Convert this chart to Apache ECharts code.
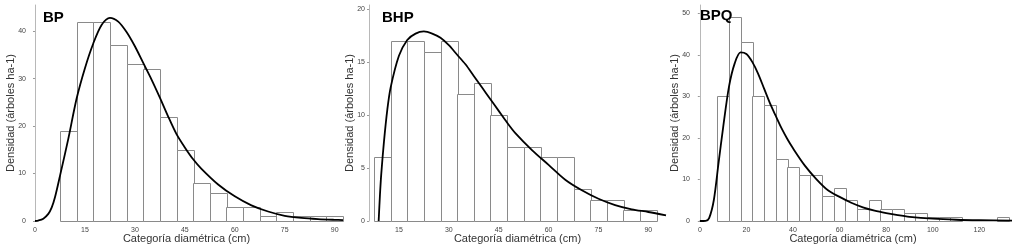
<!DOCTYPE html>
<html>
<head>
<meta charset="utf-8">
<script src="https://cdn.jsdelivr.net/npm/echarts@6/dist/echarts.min.js"></script>
<style>html,body{margin:0;padding:0;background:#fff;}#c{width:1015px;height:248px;}</style>
</head>
<body>
<div id="c"></div>
<script>
// ---- data ----
const panelNames = ['BP', 'BHP', 'BPQ'];
const binWidth = 5;

const bpBins = [10,15,20,25,30,35,40,45,50,55,60,65,70,75,80,85,90];
const bpCounts = [19,42,42,37,33,32,22,15,8,6,3,3,1,2,1,1,1];
const bpCurveX = [0,1,2.5,4,5,6,7.5,10,12.5,15,17.5,20,22.5,25,27.5,30,32.5,35,37.5,40,42.5,45,47.5,50,55,60,65,70,75,80,85,90,92.5];
const bpCurveY = [0,0.1,0.5,1.5,2.8,5,9.5,17.3,25.8,32.2,37.4,41.3,42.8,42,39.8,36.8,33.3,29.8,26,22,18.3,15.5,13,11,7.7,5.2,3.3,2,1.1,0.65,0.4,0.25,0.2];

const bhpBins = [10,15,20,25,30,35,40,45,50,55,60,65,70,75,80,85,90];
const bhpCounts = [6,17,17,16,17,12,13,10,7,7,6,6,3,2,2,1,1];
const bhpCurveX = [8.9,9.3,9.7,10.5,11.5,12.5,15,17.5,20,22.5,25,27.5,30,32.5,35,37.5,40,42.5,45,47.5,50,55,60,65,70,75,80,85,90,95.3];
const bhpCurveY = [0,2.5,4.5,7.5,10.5,12.6,15.6,17.1,17.7,17.9,17.7,17.3,16.6,15.7,14.8,13.7,12.6,11.5,10.4,9.3,8.3,6.7,5.3,3.9,2.9,2.1,1.5,1.1,0.85,0.54];

const bpqBins = [10,15,20,25,30,35,40,45,50,55,60,65,70,75,80,85,90,95,100,105,110,115,120,125,130];
const bpqCounts = [30,49,43,30,28,15,13,11,11,6,8,5,3,5,3,3,2,2,1,1,1,0,0,0,1];
const bpqCurveX = [0,2.5,4,6,8,10,12.5,15,17.5,20,22.5,25,27.5,30,32.5,35,37.5,40,45,50,55,60,65,70,75,80,85,90,100,110,120,134];
const bpqCurveY = [0,0.05,0.7,5,13.8,22.5,32.3,38,40.6,40.2,38.3,35.5,32,28.5,25.4,22.4,19.8,17.5,13.4,10.1,7.4,5.8,4.4,3.3,2.5,1.9,1.4,1.0,0.55,0.3,0.18,0.1];

const bpXTicks = [0,15,30,45,60,75,90];
const bhpXTicks = [15,30,45,60,75,90];
const bpqXTicks = [0,20,40,60,80,100,120];
const bpYTicks = [0,10,20,30,40];
const bhpYTicks = [0,5,10,15,20];
const bpqYTicks = [0,10,20,30,40,50];

const xTitle = 'Categoría diamétrica (cm)';
const yTitle = 'Densidad (árboles ha-1)';

// ---- chart ----
const FONT = 'Liberation Sans, Arial, sans-serif';
const panels = [
  {bins: bpBins, counts: bpCounts, cx: bpCurveX, cy: bpCurveY, xt: bpXTicks, yt: bpYTicks,
   grid: {left: 30, top: 5, width: 313, height: 216}, xmin: -1.5, xmax: 92.5, ymax: 45.5, label: [38, 5]},
  {bins: bhpBins, counts: bhpCounts, cx: bhpCurveX, cy: bhpCurveY, xt: bhpXTicks, yt: bhpYTicks,
   grid: {left: 369, top: 5, width: 297, height: 216}, xmin: 6, xmax: 95.3, ymax: 20.4, label: [377, 5]},
  {bins: bpqBins, counts: bpqCounts, cx: bpqCurveX, cy: bpqCurveY, xt: bpqXTicks, yt: bpqYTicks,
   grid: {left: 694, top: 5, width: 318, height: 216}, xmin: -2.5, xmax: 134, ymax: 52, label: [695, 3]}
];

const grids = [], xAxes = [], yAxes = [], series = [], titles = [];
panels.forEach((p, i) => {
  grids.push(Object.assign({outerBoundsMode: 'none', containLabel: false}, p.grid));
  xAxes.push({
    type: 'value', gridIndex: i, min: p.xmin, max: p.xmax,
    axisLine: {show: false}, splitLine: {show: false},
    axisTick: {show: false, customValues: p.xt},
    axisLabel: {customValues: p.xt, fontSize: 7, color: '#444', margin: 6, fontFamily: FONT},
    name: xTitle, nameLocation: 'middle', nameGap: 12, nameMoveOverlap: false,
    nameTextStyle: {fontSize: 11, color: '#333', fontFamily: FONT}
  });
  yAxes.push({
    type: 'value', gridIndex: i, min: 0, max: p.ymax,
    axisLine: {show: true, lineStyle: {color: '#b8b8b8', width: 1}},
    splitLine: {show: false},
    axisTick: {show: true, length: 2, customValues: p.yt, lineStyle: {color: '#999'}},
    axisLabel: {customValues: p.yt, fontSize: 7, color: '#444', margin: 4, fontFamily: FONT},
    name: yTitle, nameLocation: 'middle', nameGap: 14, nameMoveOverlap: false,
    nameTextStyle: {fontSize: 11, color: '#333', fontFamily: FONT}
  });
  series.push({
    type: 'custom', xAxisIndex: i, yAxisIndex: i, z: 2,
    data: p.bins.map((b, k) => [b, p.counts[k]]),
    renderItem: function (params, api) {
      const x = api.value(0), y = api.value(1);
      if (!y) return null;
      const a = api.coord([x - binWidth / 2, y]);
      const b = api.coord([x + binWidth / 2, 0]);
      return {type: 'rect',
        shape: {x: Math.round(a[0]) + 0.5, y: Math.round(a[1]) + 0.5, width: Math.round(b[0] - a[0]), height: Math.round(b[1] - a[1])},
        style: {fill: '#fff', stroke: '#8a8a8a', lineWidth: 1}};
    },
    silent: true
  });
  series.push({
    type: 'line', xAxisIndex: i, yAxisIndex: i, z: 5,
    data: p.cx.map((x, k) => [x, p.cy[k]]),
    smooth: 0.3, showSymbol: false, symbol: 'none',
    lineStyle: {color: '#000', width: 1.8}, silent: true
  });
  titles.push({text: panelNames[i], left: p.label[0], top: p.label[1],
    textStyle: {fontSize: 15, fontWeight: 'bold', color: '#000', fontFamily: FONT}});
});

const chart = echarts.init(document.getElementById('c'), null, {renderer: 'canvas'});
chart.setOption({
  animation: false, backgroundColor: '#fff',
  title: titles, grid: grids, xAxis: xAxes, yAxis: yAxes, series: series
});
</script>
</body>
</html>
